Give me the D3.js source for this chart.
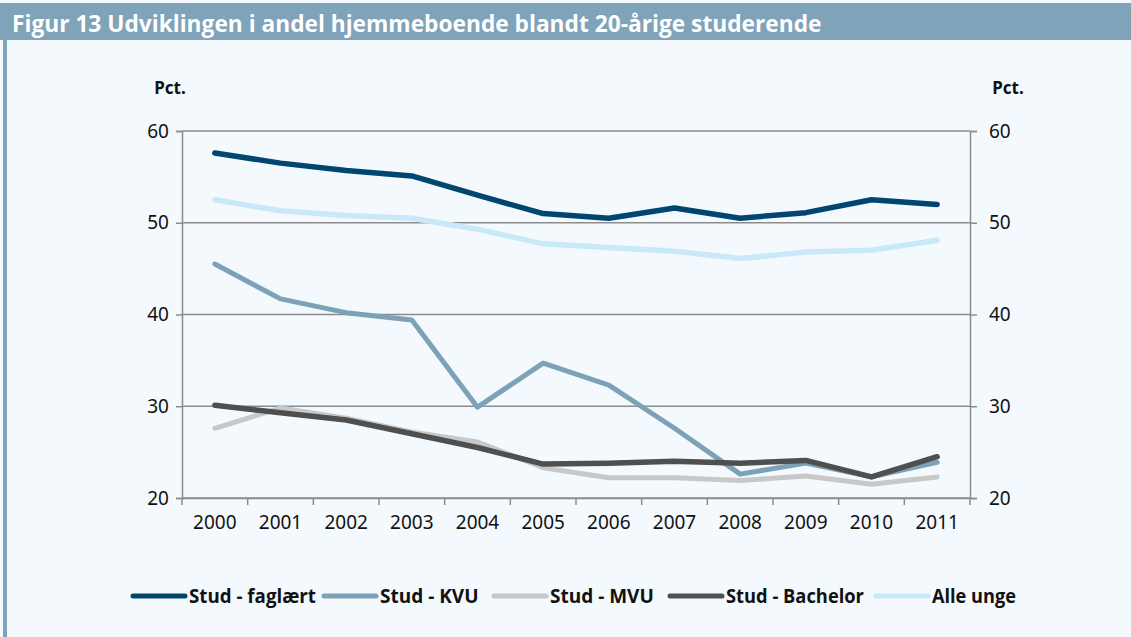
<!DOCTYPE html>
<html>
<head>
<meta charset="utf-8">
<script src="https://cdn.jsdelivr.net/npm/d3@7"></script>
<style>
  body { margin: 0; background: #f4f9fd; }
  svg { display: block; }
</style>
</head>
<body>
<div id="chart"></div>
<script>
// data
var years = ["2000","2001","2002","2003","2004","2005","2006","2007","2008","2009","2010","2011"];
var faglaert = [57.6, 56.5, 55.7, 55.1, 53.0, 51.0, 50.5, 51.6, 50.5, 51.1, 52.5, 52.0];
var kvu      = [45.5, 41.7, 40.2, 39.4, 29.9, 34.7, 32.3, 27.6, 22.6, 23.8, 22.3, 23.9];
var mvu      = [27.6, 29.8, 28.7, 27.2, 26.1, 23.3, 22.2, 22.2, 21.9, 22.4, 21.5, 22.3];
var bachelor = [30.1, 29.3, 28.5, 27.0, 25.5, 23.7, 23.8, 24.0, 23.8, 24.1, 22.3, 24.5];
var alleUnge = [52.5, 51.3, 50.8, 50.5, 49.3, 47.7, 47.3, 46.9, 46.1, 46.8, 47.0, 48.1];
var yTicks = [20, 30, 40, 50, 60];

var series = [
  {name: "Stud - faglært", values: faglaert, color: "#00466f", width: 5.5},
  {name: "Alle unge", values: alleUnge, color: "#c9e8f8", width: 5.5},
  {name: "Stud - KVU", values: kvu, color: "#7ca2b8", width: 5},
  {name: "Stud - MVU", values: mvu, color: "#c8c8c8", width: 5},
  {name: "Stud - Bachelor", values: bachelor, color: "#4f4f4f", width: 5.5}
];
var legendOrder = ["Stud - faglært", "Stud - KVU", "Stud - MVU", "Stud - Bachelor", "Alle unge"];
var legendX = [133, 324, 494, 670, 876];
var legendTextW = [127, 100, 106, 138, 84];

var W = 1131, H = 637;
var margin = {top: 131, right: 161, bottom: 139, left: 182},
    width = W - margin.left - margin.right,
    height = H - margin.top - margin.bottom;

var condensed = "'Open Sans', sans-serif";
var tickFont = "'Noto Sans', 'Open Sans', sans-serif";

// squeeze a text node horizontally to a given width (mimics a condensed face)
function squeeze(sel, w) {
  sel.each(function() {
    var len = this.getComputedTextLength();
    var k = Math.min(1, w / len);
    var x0 = +d3.select(this).attr("x") || 0;
    d3.select(this).attr("transform", "translate(" + x0 + ",0) scale(" + k + ",1) translate(" + (-x0) + ",0)");
  });
}

var root = d3.select("#chart").append("svg")
  .attr("width", W)
  .attr("height", H);

root.append("rect").attr("width", W).attr("height", H).attr("fill", "#f4f9fd");

// title bar
root.append("rect")
  .attr("x", 0).attr("y", 3)
  .attr("width", W).attr("height", 37)
  .attr("fill", "#7fa3b8");
root.append("rect")
  .attr("x", 3).attr("y", 40)
  .attr("width", 4).attr("height", H - 40)
  .attr("fill", "#7fa3b8");
root.append("text")
  .attr("x", 12).attr("y", 32)
  .attr("fill", "#ffffff")
  .style("font-family", condensed)
  .style("font-weight", "bold")
  .style("font-size", "24px")
  .text("Figur 13 Udviklingen i andel hjemmeboende blandt 20-årige studerende")
  .call(squeeze, 810);

var svg = root.append("g")
  .attr("transform", "translate(" + margin.left + "," + margin.top + ")");

var x = d3.scaleBand()
  .domain(years)
  .range([0, width]);

var y = d3.scaleLinear()
  .domain([20, 60])
  .range([height, 0]);

var grey = "#8c8c8c";

// gridlines
svg.selectAll(".grid")
  .data(yTicks)
  .enter()
  .append("line")
  .attr("x1", 0).attr("x2", width)
  .attr("y1", d => y(d)).attr("y2", d => y(d))
  .attr("stroke", grey).attr("stroke-width", 1.5);

// left axis
var yl = svg.append("g")
  .call(d3.axisLeft(y).tickValues(yTicks).tickSize(6).tickPadding(7));
// right axis
var yr = svg.append("g")
  .attr("transform", "translate(" + width + ",0)")
  .call(d3.axisRight(y).tickValues(yTicks).tickSize(7).tickPadding(12));

// x axis with ticks on band edges
var xa = svg.append("g")
  .attr("transform", "translate(0," + height + ")")
  .call(d3.axisBottom(x).tickSize(0).tickPadding(18));
xa.selectAll(".edge")
  .data(d3.range(years.length + 1))
  .enter()
  .append("line")
  .attr("x1", i => i * x.step()).attr("x2", i => i * x.step())
  .attr("y1", 0).attr("y2", 7)
  .attr("stroke", grey).attr("stroke-width", 1.5);

[yl, yr, xa].forEach(function(g) {
  g.select(".domain").attr("stroke", grey).attr("stroke-width", 1.5);
  g.selectAll(".tick line").attr("stroke", grey).attr("stroke-width", 1.5);
  g.selectAll("text")
    .style("font-family", tickFont)
    .style("font-size", "19px")
    .attr("fill", "#111");
});

// Pct. labels
[170, 1008].forEach(function(px) {
  root.append("text")
    .attr("x", px).attr("y", 94)
    .attr("text-anchor", "middle")
    .style("font-family", tickFont)
    .style("font-weight", "bold")
    .style("font-size", "17px")
    .attr("fill", "#111")
    .text("Pct.");
});

// lines
var line = d3.line()
  .x((d, i) => x(years[i]) + x.bandwidth() / 2)
  .y(d => y(d));

svg.selectAll(".series")
  .data(series)
  .enter()
  .append("path")
  .attr("fill", "none")
  .attr("stroke", d => d.color)
  .attr("stroke-width", d => d.width)
  .attr("stroke-linejoin", "round")
  .attr("stroke-linecap", "round")
  .attr("d", d => line(d.values));

// legend
var leg = root.selectAll(".leg")
  .data(legendOrder)
  .enter()
  .append("g")
  .attr("transform", (d, i) => "translate(" + legendX[i] + ",596)");
leg.append("line")
  .attr("x1", 0).attr("x2", 52)
  .attr("stroke", d => series.find(s => s.name === d).color)
  .attr("stroke-width", 5)
  .attr("stroke-linecap", "round");
leg.append("text")
  .attr("x", 56).attr("y", 7)
  .style("font-family", condensed)
  .style("font-weight", "bold")
  .style("font-size", "19px")
  .attr("fill", "#111")
  .text(d => d)
  .each(function(d, i) { d3.select(this).call(squeeze, legendTextW[i]); });
</script>
</body>
</html>
